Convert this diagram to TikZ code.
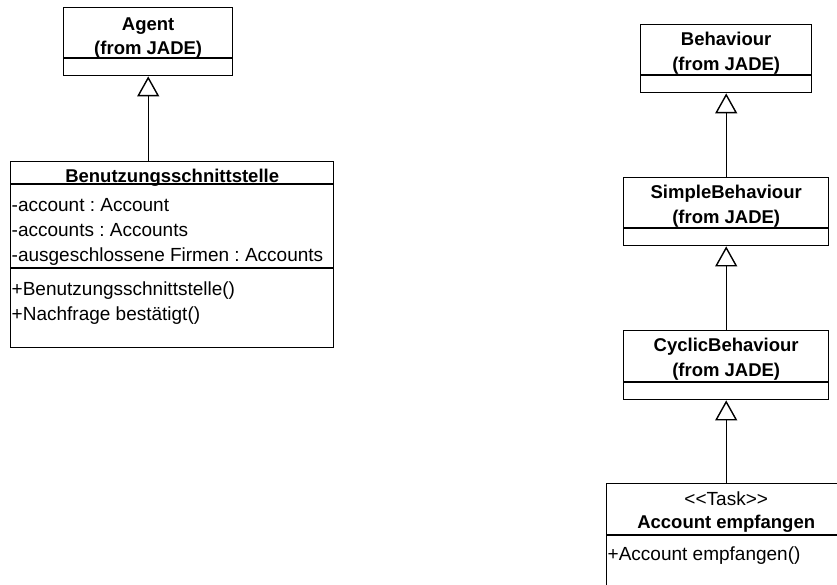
\documentclass[tikz,border=0pt]{standalone}
\usepackage{fontspec}
\setmainfont{Liberation Sans}
\usetikzlibrary{arrows.meta}
\frenchspacing
\begin{document}
\begin{tikzpicture}[x=1pt,y=-1pt,
  umlbox/.style={draw, line width=1.4pt, inner sep=0pt, anchor=north west},
  sep/.style={line width=1.4pt},
  txt/.style={font=\fontsize{19}{22}\selectfont, inner sep=0pt, text height=13.6pt, text depth=0pt},
  ttl/.style={txt, font=\fontsize{18.5}{22}\selectfont\bfseries, text height=13.2pt, anchor=center},
  stereo/.style={txt, anchor=center},
  member/.style={txt, anchor=west},
  inherit/.style={line width=1.4pt, -{Triangle[open, width=22pt, length=20pt, line width=1.4pt]}}
]
\useasboundingbox (0,0) rectangle (837,585);
\clip (0,0) rectangle (837,585);

% ---------- Agent ----------
\node[umlbox, minimum width=169pt, minimum height=68pt] (agent) at (63,7) {};
\draw[sep] (agent.west |- 0,58) -- (agent.east |- 0,58);
\node[ttl] (agentT1) at (agent.center |- 0,23.5) {Agent};
\node[ttl] (agentT2) at (agent.center |- 0,48) {(from JADE)};

% ---------- Benutzungsschnittstelle ----------
\node[umlbox, minimum width=323pt, minimum height=186pt] (benutz) at (10,161) {};
\draw[sep] (benutz.west |- 0,184) -- (benutz.east |- 0,184);
\draw[sep] (benutz.west |- 0,268) -- (benutz.east |- 0,268);
\node[ttl] (benutzT) at (benutz.center |- 0,176) {Benutzungsschnittstelle};
\node[member] (attr1) at (11.5,205) {-account : Account};
\node[member] (attr2) at (11.5,230) {-accounts : Accounts};
\node[member] (attr3) at (11.5,255) {-ausgeschlossene Firmen : Accounts};
\node[member] (op1) at (11.5,289) {+Benutzungsschnittstelle()};
\node[member] (op2) at (11.5,314) {+Nachfrage bestätigt()};

% ---------- Behaviour ----------
\node[umlbox, minimum width=171pt, minimum height=68pt] (behav) at (640,24) {};
\draw[sep] (behav.west |- 0,75) -- (behav.east |- 0,75);
\node[ttl] (behavT1) at (behav.center |- 0,38.5) {Behaviour};
\node[ttl] (behavT2) at (behav.center |- 0,63.5) {(from JADE)};

% ---------- SimpleBehaviour ----------
\node[umlbox, minimum width=205pt, minimum height=68pt] (simple) at (623,177) {};
\draw[sep] (simple.west |- 0,228) -- (simple.east |- 0,228);
\node[ttl] (simpleT1) at (simple.center |- 0,191.5) {SimpleBehaviour};
\node[ttl] (simpleT2) at (simple.center |- 0,216.5) {(from JADE)};

% ---------- CyclicBehaviour ----------
\node[umlbox, minimum width=205pt, minimum height=69pt] (cyclic) at (623,330) {};
\draw[sep] (cyclic.west |- 0,382) -- (cyclic.east |- 0,382);
\node[ttl] (cyclicT1) at (cyclic.center |- 0,345) {CyclicBehaviour};
\node[ttl] (cyclicT2) at (cyclic.center |- 0,370) {(from JADE)};

% ---------- Account empfangen (Task) ----------
\node[umlbox, minimum width=239pt, minimum height=140pt] (task) at (606,483) {};
\draw[sep] (task.west |- 0,535) -- (task.east |- 0,535);
\node[stereo] (taskS) at (task.center |- 0,499) {<{}<Task>{}>};
\node[ttl] (taskT) at (task.center |- 0,521.5) {Account empfangen};
\node[member] (taskOp) at (607.5,553.5) {+Account empfangen()};

% ---------- generalisations ----------
\draw[inherit] (agent.south |- benutz.north) -- (agent.south);
\draw[inherit] (behav.south |- simple.north) -- (behav.south);
\draw[inherit] (simple.south |- cyclic.north) -- (simple.south);
\draw[inherit] (cyclic.south |- task.north) -- (cyclic.south);
\end{tikzpicture}
\end{document}
